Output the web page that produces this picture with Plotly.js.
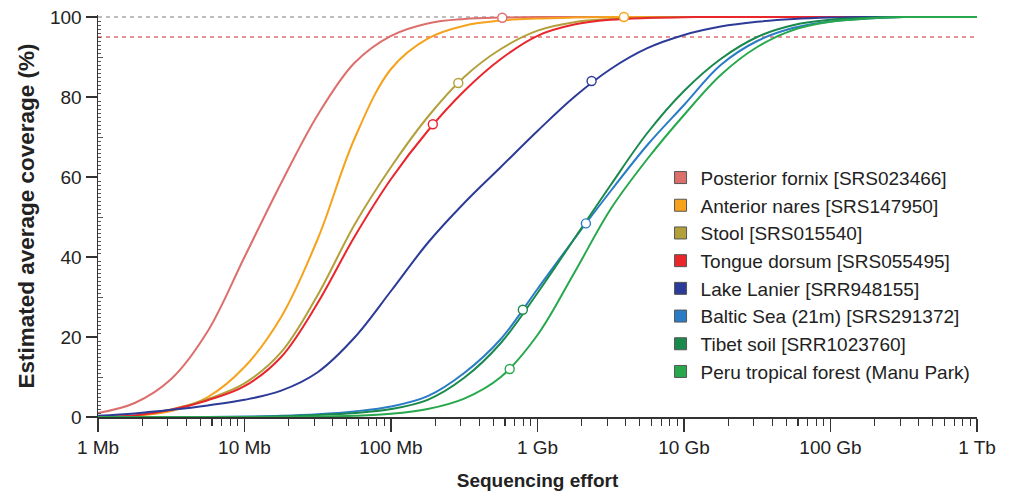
<!DOCTYPE html>
<html>
<head>
<meta charset="utf-8">
<script src="https://cdn.plot.ly/plotly-3.0.1.min.js"></script>
<style>html,body{margin:0;padding:0;background:#fff;}#chart{width:1009px;height:492px;}</style>
</head>
<body>
<div id="chart"></div>
<script>
// Sequencing effort grid (Mb)
const effortMb = [1, 1.78, 3.16, 5.62, 10, 17.8, 31.6, 56.2, 100, 178, 316, 562, 1000, 1780, 3160, 5620, 10000, 17800, 31600, 56200, 100000, 178000, 316000, 562000, 1000000];

const sampleNames = [
  "Posterior fornix [SRS023466]",
  "Anterior nares [SRS147950]",
  "Stool [SRS015540]",
  "Tongue dorsum [SRS055495]",
  "Lake Lanier [SRR948155]",
  "Baltic Sea (21m) [SRS291372]",
  "Tibet soil [SRR1023760]",
  "Peru tropical forest (Manu Park)"
];
const sampleColors = ["#dc6e6c", "#f6a21c", "#b3a03a", "#e8262c", "#2d3b98", "#2b7cc6", "#1a8a4c", "#27a84c"];

// Estimated average coverage (%) at each effort
const posteriorFornix = [1.0, 3.5, 9.5, 21.5, 40, 58.5, 75.5, 88.5, 95.3, 98.4, 99.5, 99.85, 100, 100, 100, 100, 100, 100, 100, 100, 100, 100, 100, 100, 100];
const anteriorNares   = [0, 0.3, 1.5, 5, 12.5, 25, 44.5, 69.5, 87, 94.6, 97.8, 99.1, 99.6, 99.85, 100, 100, 100, 100, 100, 100, 100, 100, 100, 100, 100];
const stool           = [0, 0.4, 1.9, 4.5, 8.4, 16.2, 30.5, 48, 62.5, 75, 85, 92, 96.6, 98.7, 99.5, 99.85, 100, 100, 100, 100, 100, 100, 100, 100, 100];
const tongueDorsum    = [0, 0.4, 1.8, 4.2, 7.7, 15, 28.5, 45, 59.5, 71.5, 81.5, 89.5, 95.3, 98.1, 99.3, 99.75, 99.95, 100, 100, 100, 100, 100, 100, 100, 100];
const lakeLanier      = [0.3, 0.9, 1.8, 2.9, 4.3, 6.6, 11.2, 19.8, 31.5, 43.5, 53.5, 62.5, 71.5, 80, 87, 92.2, 95.5, 97.6, 98.8, 99.5, 99.85, 100, 100, 100, 100];
const balticSea       = [0, 0, 0, 0, 0.1, 0.3, 0.7, 1.4, 2.6, 5.2, 11, 19.5, 32, 44.5, 56.5, 68, 78, 88, 94, 97.3, 98.9, 99.6, 100, 100, 100];
const tibetSoil       = [0, 0, 0, 0, 0, 0.2, 0.5, 1.0, 2.0, 4.3, 9.8, 18.5, 31, 44.5, 58, 71, 81.5, 89.5, 95, 98, 99.3, 99.8, 100, 100, 100];
const peruForest      = [0, 0, 0, 0, 0, 0, 0.1, 0.3, 0.8, 2.0, 4.6, 10, 20.5, 36, 52, 64.5, 75.5, 85.5, 92.5, 96.8, 98.8, 99.6, 100, 100, 100];
const seriesValues = [posteriorFornix, anteriorNares, stool, tongueDorsum, lakeLanier, balticSea, tibetSoil, peruForest];

// Observed sequencing effort of each sample (bp) and its coverage
const observedEffortBp = [5.75e8, 3.89e9, 2.88e8, 1.93e8, 2.34e9, 2.14e9, 7.94e8, 6.46e8];
const observedCoverage = [99.8, 100, 83.5, 73.2, 84.0, 48.4, 26.8, 12.0];

// Axis ticks
const xTickVals = [1e6, 1e7, 1e8, 1e9, 1e10, 1e11, 1e12];
const xTickText = ["1 Mb", "10 Mb", "100 Mb", "1 Gb", "10 Gb", "100 Gb", "1 Tb"];
const yTickVals = [0, 20, 40, 60, 80, 100];
const thresholds = [{y: 100, color: "#a8a8a8"}, {y: 95, color: "#e07070"}];

const effortBp = effortMb.map(v => v * 1e6);
const xMinor = [];
for (let d = 6; d < 12; d++) for (let k = 2; k <= 9; k++) xMinor.push(k * Math.pow(10, d));
const yMinor = [];
for (let v = 1; v < 100; v++) if (v % 20 !== 0) yMinor.push(v);

const FONT = "Liberation Sans, Arial, Helvetica, sans-serif";
const traces = [];
seriesValues.forEach((vals, i) => {
  traces.push({
    type: "scatter", mode: "lines", x: effortBp, y: vals,
    line: {color: sampleColors[i], width: 2, shape: "spline", smoothing: 1},
    showlegend: false, hoverinfo: "skip"
  });
});
sampleNames.forEach((name, i) => {
  traces.push({
    type: "scatter", mode: "markers", x: [null], y: [null], name: name,
    marker: {symbol: "square", size: 12, color: sampleColors[i], line: {color: "#555", width: 1}},
    showlegend: true
  });
});
traces.push({
  type: "scatter", mode: "markers", x: observedEffortBp, y: observedCoverage, yaxis: "y2",
  marker: {symbol: "circle", size: 9, color: "#ffffff", line: {color: sampleColors, width: 1.4}},
  showlegend: false, cliponaxis: false
});

const layout = {
  width: 1009, height: 492,
  margin: {l: 98, r: 32, t: 15, b: 75},
  paper_bgcolor: "#ffffff", plot_bgcolor: "#ffffff",
  font: {family: FONT, size: 19, color: "#222"},
  showlegend: true,
  legend: {
    x: 0.64, y: 0.6425, xanchor: "left", yanchor: "top",
    font: {family: FONT, size: 19, color: "#222"},
    tracegroupgap: 0, bgcolor: "rgba(0,0,0,0)", borderwidth: 0
  },
  xaxis: {
    type: "log", range: [6, 12],
    tickmode: "array", tickvals: xTickVals, ticktext: xTickText,
    ticks: "outside", ticklen: 13, tickwidth: 1.3, tickcolor: "#333",
    showline: true, linecolor: "#333", linewidth: 1.5,
    showgrid: false, zeroline: false,
    tickfont: {family: FONT, size: 19, color: "#222"},
    minor: {tickmode: "array", tickvals: xMinor, ticks: "outside", ticklen: 7, tickwidth: 1.1, tickcolor: "#333", showgrid: false},
    title: {text: "<b>Sequencing effort</b>", font: {family: FONT, size: 19, color: "#222"}, standoff: 16}
  },
  yaxis: {
    range: [0, 100.5], tickmode: "array", tickvals: yTickVals,
    ticks: "outside", ticklen: 11, tickwidth: 1.3, tickcolor: "#333",
    showline: true, linecolor: "#333", linewidth: 1.5,
    showgrid: false, zeroline: false,
    tickfont: {family: FONT, size: 19, color: "#222"},
    minor: {tickmode: "array", tickvals: yMinor, ticks: "inside", ticklen: 2.5, tickwidth: 1, tickcolor: "#555", showgrid: false},
    title: {text: "<b>Estimated average coverage (%)</b>", font: {family: FONT, size: 22.5, color: "#222"}, standoff: 9}
  },
  yaxis2: {
    range: [0, 100.5], overlaying: "y", side: "left", anchor: "x",
    tickmode: "array", tickvals: [10, 30, 50, 70, 90],
    ticks: "inside", ticklen: 5, tickwidth: 1, tickcolor: "#555",
    showticklabels: false, showgrid: false, zeroline: false, showline: false
  },
  shapes: thresholds.map(t => ({
    type: "line", xref: "paper", x0: 0, x1: 1, yref: "y", y0: t.y, y1: t.y,
    line: {color: t.color, width: 1.3, dash: "4px,4px"}, layer: "below"
  }))
};

Plotly.newPlot("chart", traces, layout, {displayModeBar: false, staticPlot: true});
</script>
</body>
</html>
